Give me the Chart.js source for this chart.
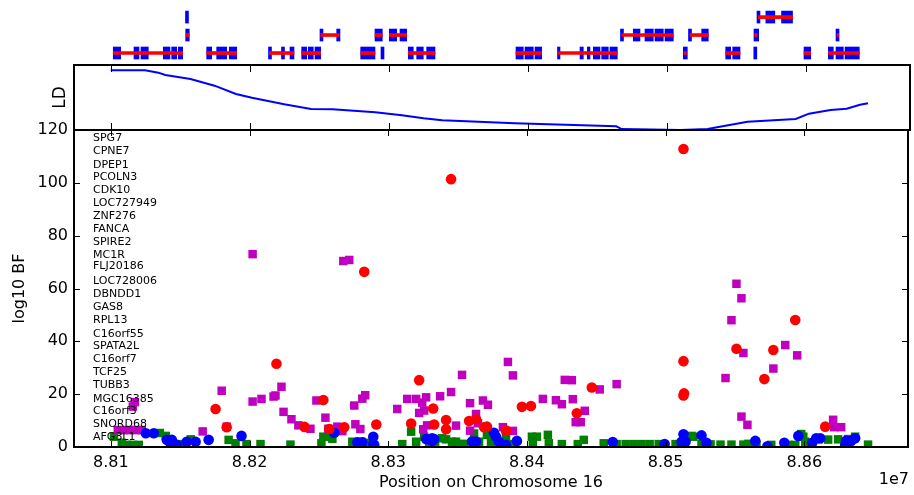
<!DOCTYPE html>
<html>
<head>
<meta charset="utf-8">
<script src="https://cdn.jsdelivr.net/npm/chart.js@4.4.1/dist/chart.umd.min.js"></script>
<style>
  body { margin: 0; background: #fff; }
  #wrap { position: relative; width: 914px; height: 495px; }
  canvas { position: absolute; left: 0; top: 0; }
</style>
</head>
<body>
<div id="wrap">
  <canvas id="genes" width="914" height="495"></canvas>
  <canvas id="ld" width="914" height="495"></canvas>
  <canvas id="main" width="914" height="495"></canvas>
</div>
<script>
// Chromosome 16 association plot - gene track, LD curve, log10 BF scatter

const X_MIN = 88073400;
const X_MAX = 88674800;
const xTicks = [88100000, 88200000, 88300000, 88400000, 88500000, 88600000];
const yTicks = [0, 20, 40, 60, 80, 100, 120];

// gene names listed down the left of the main panel, with their y position (log10 BF units)
const geneNames = ['SPG7', 'CPNE7', 'DPEP1', 'PCOLN3', 'CDK10', 'LOC727949', 'ZNF276', 'FANCA',
  'SPIRE2', 'MC1R', 'FLJ20186', 'LOC728006', 'DBNDD1', 'GAS8', 'RPL13', 'C16orf55',
  'SPATA2L', 'C16orf7', 'TCF25', 'TUBB3', 'MGC16385', 'C16orf3', 'SNORD68', 'AFG3L1'];
const geneLabelY = [117.0, 112.0, 106.8, 102.1, 97.2, 92.2, 87.4, 82.4, 77.5, 72.5, 68.4, 62.7,
  57.7, 52.9, 47.9, 42.9, 38.1, 33.2, 28.2, 23.4, 18.3, 13.5, 8.6, 3.6];

// gene track: transcript spans (kb) and exon blocks (kb), per row
const geneRow = [1, 1, 1, 1, 1, 1, 1, 1, 1, 1, 1, 1,
  2, 2, 2, 2, 2, 2, 2, 2, 3];
const geneStart = [88101.65, 88168.85, 88213.88, 88237.19, 88279.64, 88313.88, 88391.36, 88421.79, 88512.2, 88542.22, 88598.55, 88616.03,
  88154.0, 88250.86, 88289.92, 88300.21, 88467.39, 88516.52, 88563.0, 88622.3, 88565.67];
const geneEnd = [88151.58, 88190.43, 88231.65, 88250.86, 88289.92, 88333.09, 88409.85, 88464.23, 88513.9, 88552.51, 88603.37, 88638.33,
  88156.1, 88264.24, 88295.17, 88312.73, 88504.52, 88529.69, 88564.9, 88623.4, 88590.41];

const exonRow = [1, 1, 1, 1, 1, 1, 1, 1, 1, 1, 1, 1, 1, 1, 1, 1, 1, 1, 1, 1,
  1, 1, 1, 1, 1, 1, 1, 1, 1, 1, 1, 1, 1, 1, 1, 1, 1,
  2, 2, 2, 2, 2, 2, 2, 2, 2, 2, 2, 2, 2, 2, 2,
  3, 3, 3, 3];
const exonStart = [88101.65, 88116.55, 88121.58, 88137.62, 88143.67, 88148.42, 88168.85, 88176.04, 88185.10, 88213.31,
  88222.66, 88228.77, 88237.19, 88241.94, 88246.76, 88279.64, 88294.24, 88313.88, 88319.92, 88327.11,
  88391.36, 88397.83, 88405.03, 88421.22, 88437.41, 88442.65, 88446.97, 88453.01, 88458.98, 88511.71,
  88542.22, 88547.25, 88562.42, 88598.55, 88616.03, 88621.57, 88628.05,
  88153.74, 88250.36, 88262.37, 88289.92, 88300.21, 88307.91, 88466.53, 88475.74, 88484.16, 88491.35,
  88498.55, 88515.45, 88524.94, 88562.57, 88621.57,
  88153.60, 88564.73, 88571.09, 88582.38];
const exonEnd = [88106.98, 88120.14, 88126.83, 88142.44, 88147.26, 88151.58, 88172.44, 88183.23, 88190.43, 88215.46,
  88224.82, 88231.65, 88240.79, 88245.53, 88250.86, 88289.92, 88296.40, 88317.47, 88324.67, 88333.09,
  88396.61, 88403.80, 88409.85, 88423.02, 88439.78, 88444.60, 88451.79, 88457.76, 88464.23, 88514.59,
  88545.81, 88552.51, 88564.58, 88603.37, 88619.63, 88626.82, 88638.33,
  88156.33, 88252.51, 88264.74, 88295.17, 88305.53, 88312.73, 88468.69, 88480.56, 88490.13, 88497.32,
  88504.52, 88517.61, 88529.69, 88565.95, 88623.74,
  88155.75, 88566.89, 88577.56, 88590.29];

// LD curve
const ldPos = [88099800, 88124500, 88134100, 88139100, 88157200, 88174500, 88189900, 88201400, 88224600,
  88243900, 88259300, 88290100, 88309300, 88324800, 88338300, 88390400, 88463500, 88467400, 88509800,
  88529100, 88557900, 88592600, 88602100, 88617600, 88629200, 88638800, 88644600];
const ldVal = [0.918, 0.918, 0.882, 0.846, 0.785, 0.682, 0.554, 0.497, 0.395,
  0.323, 0.318, 0.272, 0.226, 0.180, 0.149, 0.103, 0.057, 0.015, 0.0,
  0.015, 0.128, 0.169, 0.251, 0.308, 0.328, 0.389, 0.411];

// log10 BF scatter series
const redPos = [88512900, 88345300, 88282700, 88219400, 88175500, 88183500, 88239600, 88253200, 88257500,
  88268300, 88291400, 88316500, 88322300, 88332400, 88333100, 88341700, 88341700, 88358300, 88363300,
  88369100, 88371200, 88384900, 88396400, 88402900, 88436000, 88446800, 88512900, 88512900, 88513300,
  88551100, 88571200, 88577700, 88593500, 88615100];
const redBF = [112.8, 101.4, 66.3, 31.5, 14.4, 7.5, 7.6, 17.8, 6.8,
  7.5, 8.5, 8.9, 25.3, 14.6, 8.5, 10.2, 6.7, 9.8, 10.5,
  7.5, 7.7, 6.2, 15.2, 15.5, 12.8, 22.5, 32.5, 19.5, 20.3,
  37.2, 25.7, 36.7, 48.1, 7.7];

const magentaPos = [88105000, 88109400, 88113700, 88118000, 88122300, 88115800, 88117300, 88166200, 88179900,
  88183500, 88202200, 88202200, 88208600, 88217300, 88218700, 88223000, 88224500, 88230200, 88235200,
  88243900, 88248200, 88254700, 88256800, 88263300, 88266900, 88267600, 88271900, 88275500, 88276300,
  88279900, 88281300, 88283400, 88306500, 88313700, 88320100, 88322300, 88324500, 88325200, 88325900,
  88327300, 88328000, 88337400, 88345300, 88348900, 88353200, 88359000, 88359000, 88363300, 88364700,
  88368300, 88371900, 88382700, 88386300, 88389900, 88389900, 88411500, 88420900, 88425200, 88427300,
  88432400, 88433100, 88435200, 88438800, 88441700, 88452500, 88464700, 88543200, 88547500, 88551100,
  88554700, 88554700, 88556100, 88559000, 88577700, 88586300, 88594900, 88620800, 88621600, 88626600];
const magentaBF = [6.4, 6.4, 6.4, 6.4, 6.4, 15.3, 17.0, 5.9, 21.3,
  7.7, 73.0, 17.2, 18.2, 19.1, 19.5, 22.8, 13.3, 10.5, 8.2,
  6.9, 17.6, 11.1, 6.9, 7.7, 6.0, 70.4, 70.8, 15.7, 8.6,
  6.8, 18.3, 19.6, 14.4, 18.2, 18.2, 12.9, 16.8, 6.7, 13.8,
  18.8, 8.2, 19.2, 20.8, 8.1, 27.3, 16.6, 6.2, 12.5, 9.0,
  17.6, 16.0, 7.5, 32.2, 27.1, 6.1, 18.2, 17.7, 16.2, 25.4,
  25.3, 18.1, 9.4, 9.4, 13.7, 21.8, 23.8, 26.1, 48.0, 61.8,
  56.3, 11.5, 35.6, 8.4, 29.7, 38.6, 34.7, 10.3, 7.5, 7.5];

const bluePos = [88125200, 88130900, 88140300, 88143900, 88143200, 88147500, 88154700, 88161100, 88170500,
  88194200, 88261100, 88277700, 88281300, 88289200, 88289200, 88289900, 88327300, 88331600, 88333100,
  88331600, 88360400, 88363300, 88376200, 88377700, 88379800, 88384900, 88392800, 88461900, 88499300,
  88512900, 88511500, 88514400, 88512200, 88525900, 88529500, 88564700, 88573400, 88585600, 88595700,
  88605700, 88608600, 88611500, 88629500, 88630200, 88633800, 88636700];
const blueBF = [5.2, 5.2, 2.7, 2.7, 1.1, 0.8, 2.0, 2.0, 2.7,
  4.2, 5.4, 1.8, 1.8, 3.9, 1.1, 0.8, 3.0, 3.3, 3.0,
  2.3, 2.1, 2.1, 5.4, 3.9, 2.0, 0.8, 2.3, 1.9, 1.1,
  4.8, 2.0, 2.0, 1.1, 4.4, 1.6, 2.3, 0.3, 1.6, 4.2,
  1.6, 3.3, 3.3, 0.8, 2.3, 2.3, 3.3];

const greenPos = [88102200, 88107900, 88111500, 88115800, 88120100, 88135300, 88139600, 88151100, 88157600,
  88184900, 88189900, 88197800, 88207900, 88229500, 88251800, 88253200, 88257500, 88259700, 88274100,
  88280600, 88284200, 88288500, 88310100, 88316500, 88320100, 88325900, 88329500, 88333800, 88338800,
  88341700, 88346000, 88348900, 88354700, 88361900, 88365500, 88371200, 88374100, 88384900, 88388500,
  88403600, 88407200, 88404300, 88415100, 88415800, 88425200, 88436700, 88441000, 88455400, 88464700,
  88471200, 88477000, 88482700, 88488500, 88495000, 88507200, 88518700, 88520100, 88525900, 88532400,
  88539600, 88547500, 88556100, 88559700, 88565500, 88576200, 88588500, 88593500, 88597800, 88599300,
  88600700, 88610100, 88617200, 88624400, 88631600, 88636700, 88646000];
const greenBF = [3.9, 1.6, 0.8, 0.8, 0.8, 5.3, 4.2, 1.1, 2.9,
  2.7, 1.4, 1.1, 1.1, 0.9, 1.4, 3.9, 3.9, 3.1, 2.0,
  2.0, 1.6, 1.1, 1.1, 5.8, 2.0, 3.9, 2.0, 2.0, 3.3,
  2.9, 2.0, 2.0, 1.2, 5.1, 2.0, 4.6, 2.0, 3.7, 1.1,
  3.9, 3.9, 1.4, 4.6, 1.4, 1.1, 1.1, 2.7, 1.4, 1.1,
  1.1, 1.1, 1.1, 1.1, 1.1, 1.1, 4.2, 3.9, 1.1, 1.0,
  0.9, 0.9, 0.9, 1.2, 0.9, 0.8, 0.8, 0.8, 4.9, 3.9,
  2.0, 2.9, 2.8, 2.9, 3.0, 3.9, 0.9];

const FONT = 'DejaVu Sans';

function pts(xs, ys) {
  return xs.map((x, i) => ({ x: x, y: ys[i] }));
}

// frame around the plot area plus inward ticks, matplotlib style
const framePlugin = {
  id: 'frame',
  afterDraw(chart, args, opts) {
    const { ctx, chartArea: a, scales } = chart;
    const len = opts.tickLen || 6;
    ctx.save();
    ctx.strokeStyle = '#000';
    ctx.lineWidth = 1;
    ctx.beginPath();
    if (opts.xTicks) {
      opts.xTicks.forEach(v => {
        const px = Math.round(scales.x.getPixelForValue(v)) + 0.5;
        ctx.moveTo(px, a.top); ctx.lineTo(px, a.top + len);
        ctx.moveTo(px, a.bottom); ctx.lineTo(px, a.bottom - len);
      });
    }
    if (opts.yTicks) {
      opts.yTicks.forEach(v => {
        const py = Math.round(scales.y.getPixelForValue(v)) + 0.5;
        ctx.moveTo(a.left, py); ctx.lineTo(a.left + len, py);
        ctx.moveTo(a.right, py); ctx.lineTo(a.right - len, py);
      });
    }
    ctx.stroke();
    ctx.lineWidth = 2;
    ctx.strokeRect(a.left, a.top, a.right - a.left, a.bottom - a.top);
    ctx.restore();
  }
};

// gene names and the 1e7 offset text
const textPlugin = {
  id: 'texts',
  afterDatasetsDraw(chart) {
    const { ctx, chartArea: a, scales } = chart;
    ctx.save();
    ctx.fillStyle = '#000';
    ctx.font = '11px "' + FONT + '"';
    ctx.textAlign = 'left';
    ctx.textBaseline = 'middle';
    geneNames.forEach((g, i) => {
      ctx.fillText(g, a.left + 19, scales.y.getPixelForValue(geneLabelY[i]));
    });
    ctx.font = '16px "' + FONT + '"';
    ctx.textAlign = 'right';
    ctx.fillText('1e7', a.right + 1, 480);
    ctx.restore();
  }
};

// ---- gene track ----
new Chart(document.getElementById('genes'), {
  type: 'bar',
  data: {
    datasets: [{
      label: 'genes',
      data: geneStart.map((s, i) => ({ x: [s * 1000, geneEnd[i] * 1000], y: geneRow[i] })),
      backgroundColor: '#ff0000',
      barThickness: 3,
      grouped: false,
      order: 1
    }, {
      label: 'exons',
      data: exonStart.map((s, i) => ({ x: [s * 1000, exonEnd[i] * 1000], y: exonRow[i] })),
      backgroundColor: '#0000ff',
      barThickness: 12,
      grouped: false,
      order: 2
    }]
  },
  options: {
    indexAxis: 'y',
    responsive: false,
    animation: false,
    devicePixelRatio: 1,
    layout: { padding: { left: 74, right: 4, top: 0, bottom: 433 } },
    plugins: { legend: { display: false }, tooltip: { enabled: false } },
    scales: {
      x: { type: 'linear', min: X_MIN, max: X_MAX, offset: false, display: false },
      y: { type: 'linear', min: 0.5, max: 3.95, offset: false, display: false }
    }
  }
});

// ---- LD panel ----
new Chart(document.getElementById('ld'), {
  type: 'scatter',
  data: {
    datasets: [{
      data: pts(ldPos, ldVal),
      showLine: true,
      borderColor: '#0000ff',
      borderWidth: 2,
      pointRadius: 0,
      clip: 2
    }]
  },
  options: {
    responsive: false,
    animation: false,
    devicePixelRatio: 1,
    layout: { padding: { left: 46, right: 4, top: 65, bottom: 365 } },
    plugins: {
      legend: { display: false },
      tooltip: { enabled: false },
      frame: { xTicks: xTicks, tickLen: 7 }
    },
    scales: {
      x: { type: 'linear', min: X_MIN, max: X_MAX, display: false },
      y: {
        min: 0, max: 1,
        ticks: { display: false },
        grid: { display: false },
        border: { display: false },
        title: { display: true, text: 'LD', color: '#000', font: { family: FONT, size: 17 }, padding: { top: 4, bottom: 0 } },
        afterFit(scale) { scale.width = 28; }
      }
    }
  },
  plugins: [framePlugin]
});

// ---- main log10 BF panel ----
const pointBase = { borderWidth: 0, clip: 0 };
new Chart(document.getElementById('main'), {
  type: 'scatter',
  data: {
    datasets: [
      Object.assign({ data: pts(redPos, redBF), backgroundColor: '#ff0000', pointStyle: 'circle', pointRadius: 5.3, order: 1 }, pointBase),
      Object.assign({ data: pts(bluePos, blueBF), backgroundColor: '#0000ff', pointStyle: 'circle', pointRadius: 5.3, order: 2 }, pointBase),
      Object.assign({ data: pts(magentaPos, magentaBF), backgroundColor: '#bf00bf', pointStyle: 'rect', pointRadius: 6, order: 3 }, pointBase),
      Object.assign({ data: pts(greenPos, greenBF), backgroundColor: '#008000', pointStyle: 'rect', pointRadius: 6, order: 4 }, pointBase)
    ]
  },
  options: {
    responsive: false,
    animation: false,
    devicePixelRatio: 1,
    layout: { padding: { left: 6, right: 4, top: 130, bottom: 0 } },
    plugins: {
      legend: { display: false },
      tooltip: { enabled: false },
      frame: { xTicks: xTicks, yTicks: yTicks, tickLen: 6 }
    },
    scales: {
      x: {
        type: 'linear', min: X_MIN, max: X_MAX,
        afterBuildTicks(scale) { scale.ticks = xTicks.map(v => ({ value: v })); },
        ticks: {
          color: '#000', font: { family: FONT, size: 16 }, padding: 6, maxRotation: 0,
          callback: v => (v / 1e7).toFixed(2)
        },
        grid: { display: false, drawTicks: false },
        border: { display: false },
        title: { display: true, text: 'Position on Chromosome 16', color: '#000', font: { family: FONT, size: 16 }, padding: { top: 0, bottom: 3 } },
        afterFit(scale) { scale.height = 48; }
      },
      y: {
        min: 0, max: 120,
        afterBuildTicks(scale) { scale.ticks = yTicks.map(v => ({ value: v })); },
        ticks: { color: '#000', font: { family: FONT, size: 16 }, padding: 6 },
        grid: { display: false, drawTicks: false },
        border: { display: false },
        title: { display: true, text: 'log10 BF', color: '#000', font: { family: FONT, size: 16 }, padding: { top: 4, bottom: 0 } },
        afterFit(scale) { scale.width = 68; }
      }
    }
  },
  plugins: [framePlugin, textPlugin]
});
</script>
</body>
</html>
